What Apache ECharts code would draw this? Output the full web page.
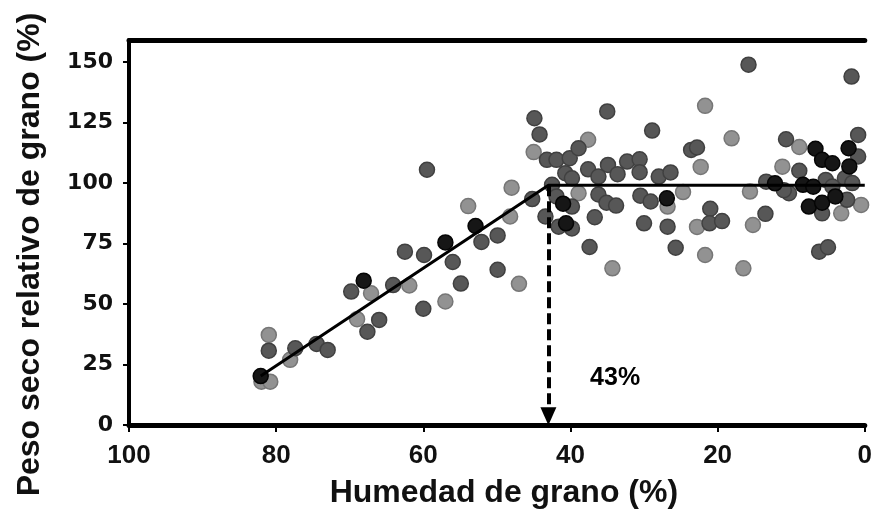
<!DOCTYPE html>
<html>
<head>
<meta charset="utf-8">
<script src="https://cdn.jsdelivr.net/npm/echarts@6/dist/echarts.min.js"></script>
<style>
  html, body { margin: 0; padding: 0; background: #fff; }
  #chart { width: 875px; height: 516px; }
</style>
</head>
<body>
<div id="chart"></div>
<script>
// Grain moisture (%) vs relative grain dry weight (%), three sample groups
const lightPoints = [
  [81.0, 37.2], [82.0, 17.9], [80.8, 17.9], [78.1, 26.9], [67.1, 54.4],
  [69.0, 43.7], [61.9, 57.6], [57.0, 51.0], [53.9, 90.4], [48.0, 98.0],
  [48.2, 86.1], [47.0, 58.3], [45.0, 112.7], [37.6, 117.8], [38.9, 95.7],
  [34.3, 64.7], [21.7, 131.8], [18.1, 118.4], [22.3, 106.6], [24.7, 96.2],
  [26.8, 90.2], [22.8, 81.8], [21.7, 70.2], [16.5, 64.7], [15.6, 96.4],
  [15.2, 82.6], [11.2, 106.7], [8.9, 114.8], [3.2, 87.4], [0.5, 90.9]
];
const mediumPoints = [
  [81.0, 30.7], [77.4, 31.7], [74.5, 33.5], [73.0, 31.0], [69.8, 55.1],
  [66.0, 43.4], [67.6, 38.5], [64.1, 57.8], [62.5, 71.6], [59.9, 70.2],
  [60.0, 48.0], [59.5, 105.4], [56.0, 67.3], [54.9, 58.4], [52.1, 75.6],
  [49.9, 78.3], [49.9, 64.1], [45.2, 93.3], [44.9, 126.7], [44.2, 120.0],
  [43.2, 109.5], [41.9, 109.5], [40.1, 110.2], [40.7, 104.0], [37.6, 105.6],
  [34.9, 107.4], [33.6, 103.6], [36.2, 102.6], [39.8, 101.9], [42.5, 99.2],
  [36.2, 95.2], [35.1, 91.8], [33.8, 90.6], [39.8, 90.2], [41.9, 94.4],
  [43.4, 86.1], [41.6, 81.9], [39.8, 81.2], [36.7, 85.8], [37.4, 73.5],
  [35.0, 129.5], [38.9, 114.3], [32.3, 108.8], [30.6, 109.7], [30.6, 104.4],
  [28.0, 102.6], [26.4, 104.3], [28.9, 121.6], [23.6, 113.6], [22.8, 114.6],
  [30.5, 94.7], [29.1, 92.3], [30.0, 83.3], [26.8, 81.9], [21.0, 89.3],
  [21.1, 83.3], [19.4, 84.2], [25.7, 73.2], [13.5, 87.2], [15.8, 148.8],
  [1.8, 143.9], [10.7, 118.0], [0.9, 119.8], [0.9, 110.9], [13.4, 100.5],
  [8.9, 105.0], [5.3, 101.2], [2.7, 101.9], [10.3, 95.7], [11.0, 97.0],
  [5.8, 87.4], [2.4, 93.0], [4.4, 98.5], [1.7, 99.9], [6.2, 71.6], [5.0, 73.4]
];
const darkPoints = [
  [82.1, 20.2], [68.1, 59.6], [52.9, 82.2], [57.0, 75.4], [41.0, 91.4],
  [40.6, 83.3], [26.9, 93.6], [12.2, 99.8], [8.4, 99.2], [7.0, 98.4],
  [6.7, 114.1], [5.8, 109.5], [4.4, 108.1], [2.2, 114.3], [2.1, 106.8],
  [7.6, 90.2], [5.8, 91.8], [4.0, 94.4]
];

// Broken-line fit: linear rise up to the threshold, then a plateau
const fitLine = [[82.1, 20.2], [43, 99], [0, 99]];
const thresholdMoisture = 43;
const plateauWeight = 99;
const thresholdLabel = '43%';

const xTicks = [0, 20, 40, 60, 80, 100];
const yTicks = [0, 25, 50, 75, 100, 125, 150];

const chart = echarts.init(document.getElementById('chart'), null, { renderer: 'canvas' });

function dotSeries(name, data, fill, border) {
  return {
    name: name,
    type: 'scatter',
    data: data,
    symbol: 'circle',
    symbolSize: 15,
    itemStyle: { color: fill, borderColor: border, borderWidth: 1.5, opacity: 1 },
    emphasis: { disabled: true },
    z: 2
  };
}

chart.setOption({
  animation: false,
  backgroundColor: '#ffffff',
  grid: { left: 129, right: 2, top: 40, bottom: 91, containLabel: false },
  xAxis: [
    {
      type: 'value',
      min: 0,
      max: 100,
      interval: 20,
      inverse: true,
      position: 'bottom',
      name: 'Humedad de grano (%)',
      nameLocation: 'middle',
      nameGap: 52,
      nameTextStyle: {
        fontFamily: 'Liberation Sans', fontSize: 32, fontWeight: 'bold', color: '#111',
        padding: [0, 0, 0, 14]
      },
      axisLine: { show: true, onZero: false, lineStyle: { color: '#000', width: 5 } },
      axisTick: { show: true, length: 7, lineStyle: { color: '#000', width: 2 }, customValues: xTicks },
      axisLabel: {
        customValues: xTicks,
        fontFamily: 'Liberation Sans', fontSize: 26, fontWeight: 'bold', color: '#111', margin: 18
      },
      splitLine: { show: false }
    },
    {
      type: 'value',
      min: 0,
      max: 100,
      inverse: true,
      position: 'top',
      axisLine: { show: true, onZero: false, lineStyle: { color: '#000', width: 5 } },
      axisTick: { show: false },
      axisLabel: { show: false },
      splitLine: { show: false }
    }
  ],
  yAxis: {
    type: 'value',
    min: 0,
    max: 159,
    interval: 25,
    name: 'Peso seco relativo de grano (%)',
    nameLocation: 'middle',
    nameGap: 83,
    nameTextStyle: {
      fontFamily: 'Liberation Sans', fontSize: 32, fontWeight: 'bold', color: '#111',
      padding: [0, 44, 0, 0]
    },
    axisLine: { show: true, onZero: false, lineStyle: { color: '#000', width: 4 } },
    axisTick: { show: true, length: 6, lineStyle: { color: '#000', width: 2 }, customValues: yTicks },
    axisLabel: {
      customValues: yTicks,
      fontFamily: 'DejaVu Sans', fontSize: 22, fontWeight: 'bold', color: '#111', margin: 16
    },
    splitLine: { show: false }
  },
  series: [
    dotSeries('Grupo claro', lightPoints, '#929292', '#767676'),
    dotSeries('Grupo medio', mediumPoints, '#575757', '#404040'),
    dotSeries('Grupo oscuro', darkPoints, '#161616', '#050505'),
    {
      name: 'Ajuste',
      type: 'line',
      data: fitLine,
      showSymbol: false,
      symbol: 'none',
      lineStyle: { color: '#000', width: 3 },
      z: 5,
      markLine: {
        silent: true,
        symbol: ['none', 'triangle'],
        symbolSize: [16, 18],
        label: { show: false },
        lineStyle: { color: '#000', width: 4, type: [11, 5] },
        data: [[
          { coord: [thresholdMoisture, plateauWeight] },
          { coord: [thresholdMoisture, 3.6] }
        ]]
      }
    },
    {
      name: 'Umbral',
      type: 'scatter',
      data: [[thresholdMoisture - 5.6, 19.4]],
      symbol: 'circle',
      symbolSize: 1,
      itemStyle: { color: 'rgba(0,0,0,0)', opacity: 1 },
      label: {
        show: true,
        formatter: thresholdLabel,
        position: 'right',
        distance: 0,
        opacity: 1,
        fontFamily: 'Liberation Sans', fontSize: 25, fontWeight: 'bold', color: '#000'
      },
      z: 6
    }
  ]
});
</script>
</body>
</html>
